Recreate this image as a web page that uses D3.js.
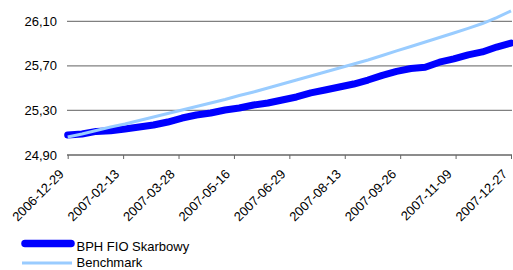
<!DOCTYPE html>
<html>
<head>
<meta charset="utf-8">
<script src="https://cdn.jsdelivr.net/npm/d3@7"></script>
<style>
  body { margin: 0; background: #fff; }
  svg text { font-family: "Liberation Sans", Arial, sans-serif; font-size: 13px; fill: #000; }
</style>
</head>
<body>
<svg width="513" height="270"></svg>
<script>
// trading-day index of each sample (31 sessions between labelled ticks)
const days = d3.range(0, 249, 8);
const tickDays = [0, 31, 62, 93, 124, 155, 186, 217, 248];
const tickLabels = ['2006-12-29', '2007-02-13', '2007-03-28', '2007-05-16', '2007-06-29',
  '2007-08-13', '2007-09-26', '2007-11-09', '2007-12-27'];
const yTicks = [24.9, 25.3, 25.7, 26.1];

const fund = [25.080, 25.089, 25.112, 25.117, 25.133, 25.151, 25.169, 25.196, 25.232, 25.259,
  25.277, 25.304, 25.322, 25.349, 25.367, 25.394, 25.421, 25.457, 25.483, 25.510,
  25.537, 25.573, 25.615, 25.650, 25.676, 25.688, 25.733, 25.762, 25.798, 25.825,
  25.869, 25.905];
const bench = [25.062, 25.089, 25.120, 25.151, 25.178, 25.210, 25.241, 25.273, 25.304, 25.335,
  25.367, 25.398, 25.434, 25.466, 25.501, 25.537, 25.573, 25.609, 25.645, 25.681,
  25.717, 25.753, 25.793, 25.834, 25.874, 25.914, 25.955, 25.995, 26.036, 26.080,
  26.134, 26.193];

const svg = d3.select('svg');
const x = d3.scaleLinear().domain([0, 248]).range([67.7, 511]);
const y = d3.scaleLinear().domain([24.9, 26.1]).range([155, 21.3]);

// gridlines
svg.append('g').selectAll('line')
  .data(yTicks.slice(1))
  .enter().append('line')
  .attr('x1', 67).attr('x2', 512)
  .attr('y1', d => y(d)).attr('y2', d => y(d))
  .attr('stroke', '#808080').attr('stroke-width', 1.3);

// y labels
svg.append('g').selectAll('text')
  .data(yTicks)
  .enter().append('text')
  .attr('x', 57).attr('y', d => y(d))
  .attr('dy', '0.35em')
  .attr('text-anchor', 'end')
  .text(d => d3.format('.2f')(d).replace('.', ','));

// x axis
const xAxis = svg.append('g').attr('transform', 'translate(0,155)')
  .call(d3.axisBottom(x).tickValues(tickDays).tickSize(4).tickFormat(''));
xAxis.select('.domain').attr('stroke', '#666').attr('stroke-width', 1.3).attr('d', 'M67,0H512');
xAxis.selectAll('.tick line').attr('stroke', '#666');

svg.append('g').selectAll('text')
  .data(tickDays)
  .enter().append('text')
  .attr('text-anchor', 'end')
  .attr('transform', d => 'translate(' + (x(d) - 3) + ',175) rotate(-45)')
  .text((d, i) => tickLabels[i]);

const line = d3.line().x((d, i) => x(days[i])).y(d => y(d));

svg.append('path').datum(fund)
  .attr('d', line).attr('fill', 'none')
  .attr('stroke', '#0000ff').attr('stroke-width', 7)
  .attr('stroke-linejoin', 'round').attr('stroke-linecap', 'round');

svg.append('path').datum(bench)
  .attr('d', line).attr('fill', 'none')
  .attr('stroke', '#99ccff').attr('stroke-width', 3);

// legend
const legend = [
  { name: 'BPH FIO Skarbowy', color: '#0000ff', w: 7.5, cap: 'round', y: 243.5, base: 250.5 },
  { name: 'Benchmark', color: '#99ccff', w: 3, cap: 'butt', y: 263, base: 266.5 }
];
const lg = svg.append('g').selectAll('g').data(legend).enter().append('g');
lg.append('line')
  .attr('x1', d => d.cap === 'round' ? 25 : 22).attr('x2', d => d.cap === 'round' ? 71 : 72)
  .attr('y1', d => d.y).attr('y2', d => d.y)
  .attr('stroke', d => d.color).attr('stroke-width', d => d.w)
  .attr('stroke-linecap', d => d.cap);
lg.append('text')
  .attr('x', 76.5).attr('y', d => d.base)
  .text(d => d.name);
</script>
</body>
</html>
